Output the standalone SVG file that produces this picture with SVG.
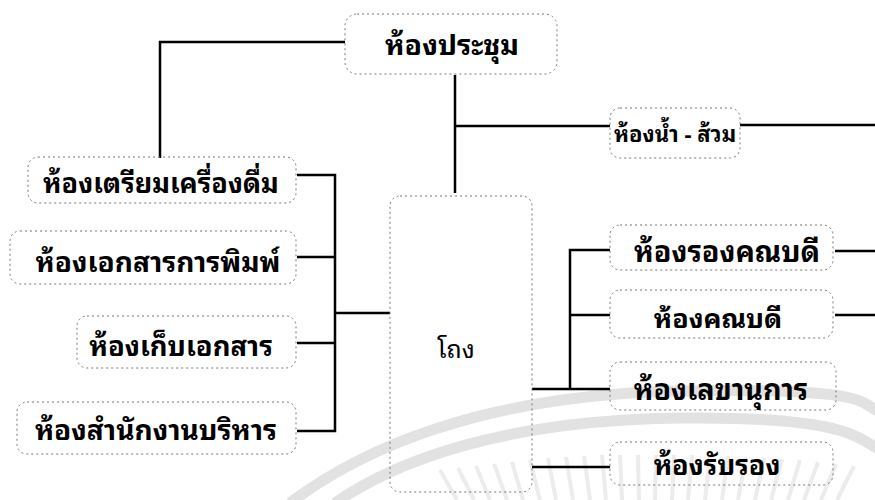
<svg xmlns="http://www.w3.org/2000/svg" width="875" height="500" viewBox="0 0 875 500">
<style>
.box{fill:none;stroke:#777;stroke-width:1;stroke-dasharray:2 3}
.t{font-family:"Noto Sans Thai Looped","Loma","Garuda","Waree","Umpush","Tahoma","Noto Sans Thai","DejaVu Sans",sans-serif;font-weight:bold;font-size:28px;fill:#000;text-anchor:middle}
.n{font-weight:normal;font-size:25px}
.c{fill:none;stroke:#000;stroke-width:2.5}
.wm{fill:none;stroke:#e2e2e2;stroke-width:11}
.ray{stroke:#ececec;stroke-width:4}
</style>
<rect width="875" height="500" fill="#fff"/>
<g id="watermark">
<path class="wm" d="M290,503 C360,450 480,395 680,391 S860,405 880,412"/>
<path class="wm" d="M335,503 C400,458 510,420 680,418 S860,440 880,450"/>
<g class="ray">
<line x1="440" y1="470" x2="457" y2="500"/><line x1="458" y1="468" x2="474" y2="500"/>
<line x1="476" y1="466" x2="490" y2="500"/><line x1="494" y1="464" x2="507" y2="500"/>
<line x1="512" y1="462" x2="523" y2="500"/><line x1="530" y1="460" x2="540" y2="500"/>
<line x1="548" y1="458" x2="556" y2="500"/><line x1="566" y1="457" x2="573" y2="500"/>
<line x1="584" y1="456" x2="590" y2="500"/><line x1="602" y1="455" x2="606" y2="500"/>
<line x1="620" y1="455" x2="622" y2="500"/><line x1="638" y1="455" x2="639" y2="500"/>
<line x1="656" y1="455" x2="655" y2="500"/><line x1="674" y1="455" x2="672" y2="500"/>
<line x1="692" y1="455" x2="688" y2="500"/><line x1="710" y1="455" x2="705" y2="500"/>
<line x1="728" y1="456" x2="722" y2="500"/><line x1="746" y1="457" x2="738" y2="500"/>
<line x1="764" y1="458" x2="755" y2="500"/><line x1="782" y1="459" x2="771" y2="500"/>
<line x1="800" y1="460" x2="788" y2="500"/><line x1="818" y1="462" x2="804" y2="500"/>
<line x1="836" y1="464" x2="821" y2="500"/><line x1="854" y1="466" x2="837" y2="500"/>
</g>
</g>
<g id="connectors">
<path class="c" d="M345,42 H160 V158"/>
<path class="c" d="M455,75 V193"/>
<path class="c" d="M455,126 H610"/>
<path class="c" d="M740,125 H875"/>
<path class="c" d="M297,175 H335 V431 H297"/>
<path class="c" d="M297,257 H335"/>
<path class="c" d="M297,343 H335"/>
<path class="c" d="M335,313 H390"/>
<path class="c" d="M610,250 H570 V389"/>
<path class="c" d="M570,315 H610"/>
<path class="c" d="M532,389 H610"/>
<path class="c" d="M532,467 H610"/>
<path class="c" d="M835,251 H875"/>
<path class="c" d="M835,315 H875"/>
</g>
<g id="n-meeting"><rect class="box" x="345" y="14" width="212" height="60" rx="12"/><text class="t" x="452" y="55" style="font-size:28.5px">ห้องประชุม</text></g>
<g id="n-toilet"><rect class="box" x="610" y="108" width="130" height="50" rx="10"/><text class="t" x="675" y="142" style="font-size:22px">ห้องน้ำ - ส้วม</text></g>
<g id="n-pantry"><rect class="box" x="28" y="157" width="268" height="46" rx="10"/><text class="t" x="161" y="193" style="font-size:27px">ห้องเตรียมเครื่องดื่ม</text></g>
<g id="n-print"><rect class="box" x="10" y="231" width="286" height="53" rx="10"/><text class="t" x="158" y="272">ห้องเอกสารการพิมพ์</text></g>
<g id="n-store"><rect class="box" x="77" y="316" width="219" height="52" rx="10"/><text class="t" x="181" y="356" style="font-size:27.4px">ห้องเก็บเอกสาร</text></g>
<g id="n-office"><rect class="box" x="17" y="402" width="279" height="52" rx="10"/><text class="t" x="156" y="440">ห้องสำนักงานบริหาร</text></g>
<g id="n-hall"><rect class="box" x="390" y="196" width="142" height="296" rx="10"/><text class="t n" x="456" y="358">โถง</text></g>
<g id="n-vicedean"><rect class="box" x="610" y="225" width="223" height="45" rx="10"/><text class="t" x="727" y="262" style="font-size:28.8px">ห้องรองคณบดี</text></g>
<g id="n-dean"><rect class="box" x="610" y="290" width="223" height="48" rx="10"/><text class="t" x="718" y="328" style="font-size:26.8px">ห้องคณบดี</text></g>
<g id="n-secretary"><rect class="box" x="610" y="362" width="226" height="48" rx="10"/><text class="t" x="721" y="400" style="font-size:28.7px">ห้องเลขานุการ</text></g>
<g id="n-reception"><rect class="box" x="610" y="442" width="223" height="43" rx="10"/><text class="t" x="717" y="475" style="font-size:27px">ห้องรับรอง</text></g>
</svg>
